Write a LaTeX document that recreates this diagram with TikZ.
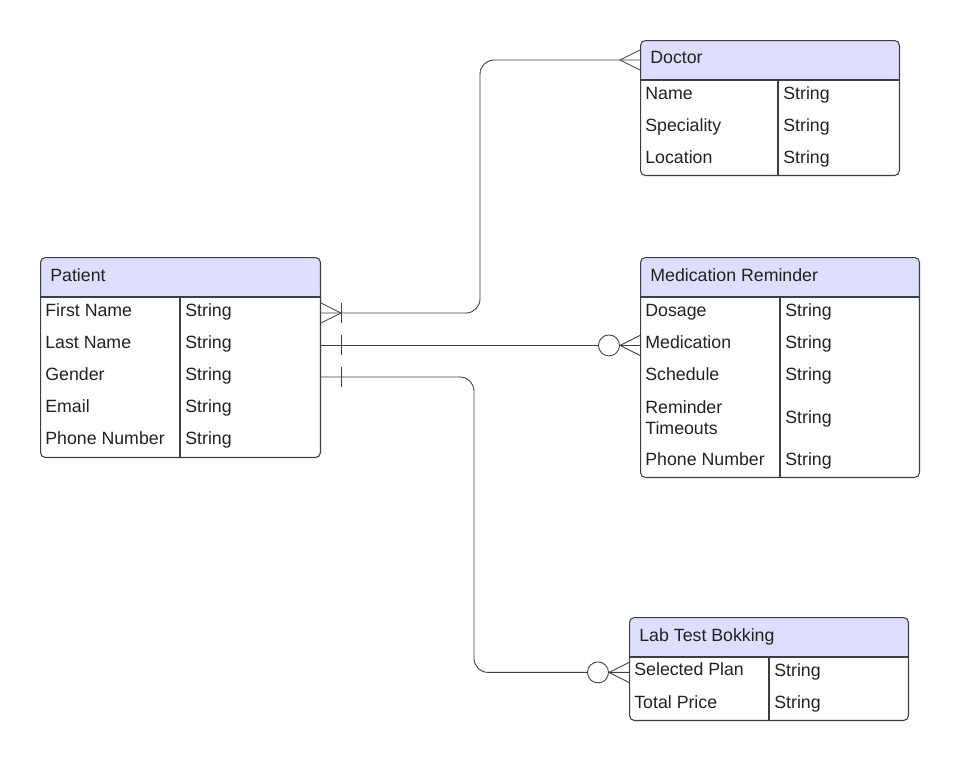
\documentclass[tikz,border=0pt]{standalone}
\usepackage{fontspec}
\setmainfont{Liberation Sans}
\definecolor{hdr}{RGB}{222,222,255}
\definecolor{edge}{RGB}{58,62,70}
\definecolor{ink}{RGB}{33,33,33}

\begin{document}
\begin{tikzpicture}[x=0.02cm, y=-0.02cm,
  tbox/.style={draw=edge, line width=0.6pt, rounded corners=2.8pt, anchor=north west, inner sep=0pt,
    path picture={\fill[hdr] (path picture bounding box.north west) rectangle ([yshift=-0.8cm]path picture bounding box.north east);}},
  hline/.style={draw=edge, line width=0.6pt},
  field/.style={anchor=west, inner sep=0pt, text=ink, text height=0.26cm, text depth=0.14cm,
    font=\fontsize{10.1}{11.95}\selectfont},
  rel/.style={draw=edge, line width=0.5pt},
  zero/.style={circle, draw=edge, line width=0.5pt, fill=white, minimum size=0.42cm, inner sep=0pt}]
  \useasboundingbox (0,0) rectangle (960,761);

  % patient
  \node[tbox, minimum width=5.6cm, minimum height=4cm] (patient) at (40,257) {};
  \draw[hline] (40,297) -- (320,297);
  \draw[hline] (180,297) -- (180,457);
  \node[field] (patient-h) at (50,278) {Patient};
  \node[field] (pat-fn) at (45,313) {First Name};
  \node[field] (pat-fn-t) at (185,313) {String};
  \node[field] (pat-ln) at (45,345.4) {Last Name};
  \node[field] (pat-ln-t) at (185,345) {String};
  \node[field] (pat-gd) at (45,377) {Gender};
  \node[field] (pat-gd-t) at (185,377) {String};
  \node[field] (pat-em) at (45,409) {Email};
  \node[field] (pat-em-t) at (185,409) {String};
  \node[field] (pat-ph) at (45,441) {Phone Number};
  \node[field] (pat-ph-t) at (185,441) {String};

  % doctor
  \node[tbox, minimum width=5.18cm, minimum height=2.7cm] (doctor) at (640,40) {};
  \draw[hline] (640,80) -- (899,80);
  \draw[hline] (778,80) -- (778,175);
  \node[field] (doctor-h) at (650,60) {Doctor};
  \node[field] (doc-nm) at (645,96) {Name};
  \node[field] (doc-nm-t) at (783,96) {String};
  \node[field] (doc-sp) at (645,128) {Speciality};
  \node[field] (doc-sp-t) at (783,128) {String};
  \node[field] (doc-lc) at (645,160) {Location};
  \node[field] (doc-lc-t) at (783,160) {String};

  % medication reminder
  \node[tbox, minimum width=5.58cm, minimum height=4.4cm] (medrem) at (640,257) {};
  \draw[hline] (640,297) -- (919,297);
  \draw[hline] (780,297) -- (780,477);
  \node[field] (medrem-h) at (650,278) {Medication Reminder};
  \node[field] (med-ds) at (645,313) {Dosage};
  \node[field] (med-ds-t) at (785,313) {String};
  \node[field] (med-md) at (645,345.4) {Medication};
  \node[field] (med-md-t) at (785,345) {String};
  \node[field] (med-sc) at (645,377) {Schedule};
  \node[field] (med-sc-t) at (785,377) {String};
  \node[anchor=west, inner sep=0pt, text=ink, align=left, font=\fontsize{10.1}{11.95}\selectfont]
    (med-rt) at (645,418) {Reminder\\Timeouts};
  \node[field] (med-rt-t) at (785,420) {String};
  \node[field] (med-ph) at (645,462) {Phone Number};
  \node[field] (med-ph-t) at (785,462) {String};

  % lab test booking
  \node[tbox, minimum width=5.58cm, minimum height=2.06cm] (labtest) at (629,617) {};
  \draw[hline] (629,657) -- (908,657);
  \draw[hline] (769,657) -- (769,720);
  \node[field] (labtest-h) at (639,638) {Lab Test Bokking};
  \node[field] (lab-sp) at (634,672.4) {Selected Plan};
  \node[field] (lab-sp-t) at (774,673) {String};
  \node[field] (lab-tp) at (634,705) {Total Price};
  \node[field] (lab-tp-t) at (774,705) {String};

  % relations
  \coordinate (bend-doc) at (480,0);
  \coordinate (bend-lab) at (474,0);
  \draw[rel, rounded corners=8] (pat-fn -| patient.east) -| (doctor-h -| bend-doc) -- (doctor-h -| doctor.west);
  \draw[rel] (pat-ln -| patient.east) -- (med-md -| medrem.west);
  \draw[rel, rounded corners=8] (pat-gd -| patient.east) -| (lab-sp -| bend-lab) -- (lab-sp -| labtest.west);

  % ends
  \draw[rel] (pat-fn -| patient.east) ++(0,-10) -- ++(20,10) -- ++(-20,10);
  \draw[rel] (pat-fn -| patient.east) ++(20,-10) -- ++(0,20);
  \draw[rel] (doctor-h -| doctor.west) ++(0,-10) -- ++(-20,10) -- ++(20,10);
  \draw[rel] (pat-ln -| patient.east) ++(20,-10) -- ++(0,20);
  \draw[rel] (med-md -| medrem.west) ++(0,-10) -- ++(-20,10) -- ++(20,10);
  \node[zero] (med-zero) at (609,345.4) {};
  \draw[rel] (pat-gd -| patient.east) ++(20,-10) -- ++(0,20);
  \draw[rel] (lab-sp -| labtest.west) ++(0,-10) -- ++(-20,10) -- ++(20,10);
  \node[zero] (lab-zero) at (598,672.4) {};
\end{tikzpicture}
\end{document}
